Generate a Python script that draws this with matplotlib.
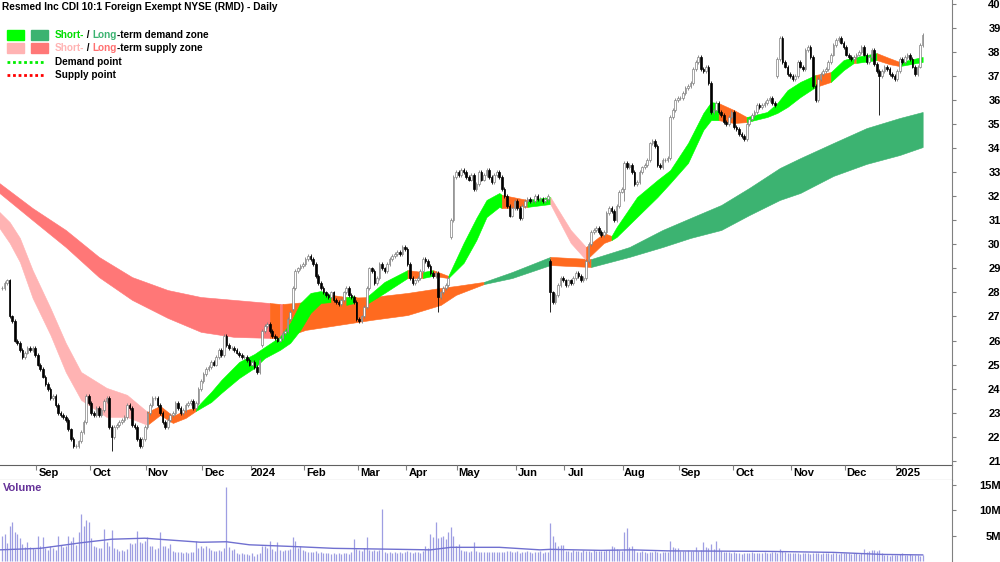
import numpy as np
import matplotlib
matplotlib.use("Agg")
import matplotlib.pyplot as plt
from matplotlib.patches import Rectangle
from matplotlib.lines import Line2D

plt.rcParams['font.family'] = ['Liberation Sans', 'DejaVu Sans']

# trading days in each month shown (Aug 2023 partial ... Jan 2025 partial)
month_days = [14, 21, 22, 22, 19, 21, 21, 19, 20, 23, 19, 23, 22, 21, 23, 21, 20, 11]
month_labels = ['', 'Sep', 'Oct', 'Nov', 'Dec', '2024', 'Feb', 'Mar', 'Apr', 'May',
                'Jun', 'Jul', 'Aug', 'Sep', 'Oct', 'Nov', 'Dec', '2025']

# daily closes, one row per month
closes = [
    28.2, 28.4, 28.5, 27.0, 26.8, 26.0, 25.9, 25.6, 25.3, 25.5, 25.7, 25.6, 25.7, 25.4,
    25.0, 24.8, 24.5, 24.2, 24.0, 23.6, 23.7, 23.3, 23.0, 22.9, 22.8, 22.7, 22.3, 21.9,
    21.6, 21.6, 21.8, 22.2, 22.6, 23.7, 23.4,
    23.0, 22.9, 23.2, 22.9, 23.1, 23.5, 23.6, 22.4, 22.0, 22.4, 22.5, 22.6, 22.7, 22.8,
    23.3, 23.2, 22.5, 22.4, 21.9, 21.6, 21.9, 22.4,
    23.0, 23.3, 23.6, 23.6, 23.3, 23.0, 22.6, 22.4, 22.7, 22.9, 23.0, 23.4, 23.2, 23.0,
    23.1, 23.3, 23.4, 23.5, 23.2, 23.4, 24.0, 24.3,
    24.6, 24.8, 24.9, 25.1, 25.0, 25.3, 25.6, 25.4, 26.2, 25.8, 25.7, 25.7, 25.6, 25.5,
    25.4, 25.3, 25.3, 25.2, 25.0,
    25.1, 24.9, 24.7, 25.2, 26.4, 26.6, 26.7, 26.4, 26.2, 26.1, 26.0, 26.1, 26.3, 26.4,
    26.9, 27.2, 28.2, 28.9, 29.0, 29.1, 29.2,
    29.4, 29.5, 29.4, 29.2, 28.7, 28.4, 28.2, 28.0, 27.9, 27.8, 28.0, 27.7, 27.6, 27.5,
    27.7, 28.0, 28.2, 27.9, 27.8, 27.6, 26.9,
    26.8, 27.0, 27.4, 28.2, 29.0, 28.9, 28.4, 28.6, 29.2, 29.0, 28.9, 29.2, 29.4, 29.5,
    29.6, 29.7, 29.6, 29.9, 29.8,
    29.2, 28.6, 28.4, 28.5, 28.6, 28.9, 29.4, 29.3, 29.1, 28.8, 28.7, 28.8, 27.8, 28.0,
    28.2, 28.3, 28.6, 31.0, 32.8, 33.0,
    32.9, 33.1, 33.0, 32.8, 32.7, 32.9, 32.3, 32.5, 33.0, 32.7, 32.9, 33.1, 32.8, 32.6,
    32.9, 33.0, 32.8, 32.3, 32.0, 31.6, 31.2, 31.5, 31.8,
    31.5, 31.1, 31.6, 31.8, 31.9, 31.8, 31.8, 32.0, 31.9, 31.9, 31.8, 31.9, 32.0, 28.0,
    27.6, 27.9, 28.3, 28.6, 28.5,
    28.3, 28.5, 28.4, 28.6, 28.8, 28.7, 28.5, 28.6, 29.3, 30.0, 30.5, 30.6, 30.7, 30.5,
    30.4, 30.5, 31.3, 31.5, 31.4, 31.0, 31.6, 32.2, 32.3,
    33.4, 33.2, 33.3, 33.0, 32.5, 32.6, 33.0, 33.2, 33.3, 33.5, 34.2, 34.3, 34.1, 33.3,
    33.2, 33.5, 33.5, 33.6, 35.3, 35.6, 36.0, 36.1,
    36.1, 36.3, 36.5, 36.6, 36.7, 37.3, 37.6, 37.8, 37.3, 37.2, 37.4, 36.7, 35.5, 35.6,
    35.9, 35.5, 35.4, 35.1, 35.0, 35.3, 35.5,
    34.9, 34.8, 34.6, 34.5, 34.4, 35.0, 35.2, 35.4, 35.5, 35.8, 35.7, 35.8, 35.9, 36.0,
    36.1, 35.9, 35.8, 37.7, 38.6, 37.6, 37.4, 37.1, 37.0,
    36.9, 37.0, 37.6, 37.4, 37.3, 38.1, 38.2, 37.8, 36.6, 36.0, 36.9, 37.1, 37.2, 37.3,
    37.6, 37.9, 38.3, 38.5, 38.6, 38.4, 38.2,
    37.9, 37.8, 37.7, 37.8, 37.9, 38.0, 38.2, 37.9, 37.6, 37.8, 38.1, 37.5, 37.2, 37.0,
    37.2, 37.4, 37.3, 37.1, 37.0, 36.9,
    37.2, 37.7, 37.6, 37.8, 37.9, 37.7, 37.4, 37.1, 37.4, 38.3, 38.7,
]

# opens on gap days (other days open at the previous close)
gap_opens = {102: 25.8, 114: 27.3, 176: 30.3, 215: 29.3, 304: 37.0}
# long lower shadows
long_lows = {43: 21.4, 171: 27.2, 215: 27.2, 244: 31.8, 344: 35.4}

# volume in millions
volume = [
    5.0, 5.3, 3.5, 7.0, 7.7, 5.7, 5.3, 4.5, 3.3, 2.8, 3.7, 2.7, 2.5, 2.4,
    5.0, 3.0, 4.7, 2.5, 2.2, 3.0, 2.6, 2.2, 5.0, 3.2, 2.8, 3.0, 5.0, 4.0, 4.7, 3.2,
    5.7, 9.3, 7.0, 8.0, 7.7,
    4.5, 3.0, 2.8, 2.5, 2.6, 6.3, 3.7, 3.0, 6.1, 2.5, 2.3, 2.0, 2.2, 2.0, 2.3, 3.5,
    3.3, 3.5, 6.0, 3.7, 3.5, 4.0,
    4.7, 3.0, 3.0, 2.3, 2.5, 5.7, 3.0, 3.0, 2.5, 3.3, 2.0, 1.8, 1.7, 1.8, 1.6, 1.7,
    1.6, 1.8, 1.7, 4.0, 2.5, 3.0,
    2.5, 3.0, 2.5, 2.2, 2.0, 2.0, 2.2, 2.0, 2.5, 14.7, 2.8, 2.2, 2.4, 1.5, 1.4, 1.5,
    1.3, 1.4, 1.2,
    1.6, 1.0, 1.3, 1.5, 3.0, 2.9, 2.5, 4.0, 2.4, 2.0, 3.7, 2.2, 2.0, 2.2, 2.1, 2.3,
    4.7, 4.0, 2.5, 3.0, 2.2,
    2.0, 1.8, 1.8, 1.7, 1.9, 1.6, 1.8, 1.5, 1.6, 1.5, 1.4, 1.5, 1.3, 1.5, 1.4, 1.6,
    1.5, 1.4, 1.8, 4.3, 2.3,
    2.2, 2.0, 2.5, 4.8, 2.1, 2.0, 2.2, 2.0, 2.2, 10.2, 1.8, 1.6, 1.8, 1.6, 1.7, 1.5,
    1.8, 1.6, 1.7,
    2.0, 1.8, 1.6, 1.8, 1.7, 1.6, 1.9, 3.0, 2.5, 5.3, 4.7, 7.7, 4.5, 4.7, 5.0, 4.3,
    5.7, 6.7, 5.0, 3.0,
    3.3, 2.2, 2.0, 2.0, 1.8, 1.9, 3.7, 2.0, 1.8, 1.8, 1.7, 1.8, 1.7, 1.8, 1.7, 1.8,
    1.8, 1.8, 1.7, 2.0, 1.9, 1.8, 1.7,
    1.9, 1.6, 1.8, 1.7, 2.0, 1.8, 1.6, 1.7, 1.8, 1.9, 1.6, 1.7, 1.8, 7.5, 5.0, 3.7,
    3.0, 3.2, 3.2,
    2.0, 1.9, 1.8, 2.1, 1.9, 2.0, 1.8, 2.2, 1.9, 2.0, 1.8, 2.1, 1.9, 2.0, 2.0, 2.0,
    2.2, 2.2, 3.0, 2.7, 2.4, 2.1, 2.0,
    5.7, 6.5, 2.7, 3.0, 2.3, 1.8, 1.7, 1.9, 1.8, 1.6, 1.8, 1.7, 1.9, 1.8, 1.6, 1.7,
    1.8, 1.8, 3.9, 2.7, 2.5, 2.5,
    2.0, 1.9, 2.0, 2.1, 2.0, 2.0, 2.7, 2.0, 2.1, 3.7, 2.7, 2.5, 3.3, 2.3, 4.0, 2.5,
    1.9, 1.8, 1.7, 1.8, 1.6,
    1.7, 1.5, 1.6, 1.4, 1.5, 1.6, 1.5, 1.7, 1.6, 1.5, 1.6, 1.5, 1.7, 1.6, 1.5, 1.8,
    1.7, 1.6, 2.4, 2.0, 1.7, 1.6, 1.5,
    1.6, 1.5, 1.6, 1.4, 1.5, 1.5, 1.6, 1.4, 1.5, 1.6, 1.5, 1.4, 1.5, 1.6, 1.5, 1.4,
    1.5, 1.6, 1.4, 1.5, 1.5,
    1.6, 1.5, 1.4, 1.5, 1.6, 1.4, 1.6, 2.3, 1.7, 2.0, 2.1, 2.2, 1.9, 2.1, 1.6, 1.2,
    1.1, 1.0, 1.1, 1.2,
    1.1, 1.3, 1.6, 1.2, 1.1, 1.3, 1.2, 1.1, 1.2, 1.0, 1.1,
]

# volume average line (day index, millions)
vol_ma_x = [-1, 15, 31, 43, 56, 78, 88, 97, 117, 130, 156, 168, 176, 195, 211, 215,
            235, 247, 261, 300, 326, 345, 361]
vol_ma_y = [2.2, 2.5, 3.6, 4.3, 4.5, 3.7, 3.8, 3.2, 2.8, 2.5, 2.3, 2.2, 2.7, 2.7,
            2.2, 2.3, 2.1, 2.2, 2.0, 1.9, 1.7, 1.3, 1.2]

# short-term zone band (day index, upper, lower)
st_x = [-1, 3, 7, 12, 19, 25, 31, 41, 49, 57, 62, 67, 72, 76, 82, 86, 93, 99, 103,
        109, 113, 117, 121, 125, 129, 135, 138, 141, 143, 150, 159, 165, 169, 175,
        181, 186, 190, 195, 196, 206, 215, 223, 229, 236, 239, 241, 249, 257, 262,
        269, 275, 278, 281, 287, 292, 300, 304, 308, 313, 319, 325, 330, 334, 335,
        343, 348, 352, 361]
st_hi = [31.35, 30.93, 30.27, 28.93, 27.35, 25.90, 24.69, 24.03, 23.74, 23.03,
         23.28, 22.86, 23.11, 23.19, 23.86, 24.36, 25.11, 25.44, 25.73, 26.15,
         26.73, 27.56, 27.98, 28.06, 27.90, 27.81, 27.85, 27.69, 27.81, 28.44,
         28.93, 28.85, 28.93, 28.69, 30.06, 31.10, 31.85, 32.14, 32.06, 31.85,
         31.97, 30.60, 29.89, 30.47, 30.35, 30.72, 31.97, 32.68, 33.09, 34.22,
         35.47, 35.92, 35.88, 35.59, 35.30, 35.51, 35.88, 36.42, 36.76, 37.05,
         37.17, 37.67, 37.80, 37.80, 37.96, 37.75, 37.59, 37.80]
st_lo = [30.68, 30.06, 29.27, 27.77, 26.23, 24.69, 23.53, 22.82, 22.82, 22.49,
         22.90, 22.57, 22.78, 23.07, 23.44, 23.82, 24.44, 24.86, 25.27, 25.61,
         25.90, 26.44, 27.15, 27.56, 27.60, 27.48, 27.56, 27.40, 27.52, 27.98,
         28.60, 28.60, 28.69, 28.60, 29.23, 30.18, 31.14, 31.56, 31.51, 31.56,
         31.68, 30.06, 29.35, 30.06, 30.18, 30.31, 31.14, 31.97, 32.55, 33.39,
         34.76, 35.17, 35.17, 35.05, 35.09, 35.30, 35.47, 35.72, 36.13, 36.55,
         36.76, 37.25, 37.55, 37.55, 37.67, 37.50, 37.42, 37.59]
st_zones = [(-1, 'SS'), (57, 'N'), (76, 'SD'), (129, 'N'), (135, 'SD'), (138, 'N'),
            (143, 'SD'), (159, 'N'), (165, 'SD'), (169, 'N'), (175, 'SD'), (196, 'N'),
            (206, 'SD'), (215, 'SS'), (229, 'N'), (239, 'SD'), (281, 'N'), (292, 'SD'),
            (319, 'N'), (325, 'SD'), (334, 'N'), (335, 'SD'), (343, 'N'), (352, 'SD')]

# long-term zone band
lt_x = [-1, 12, 25, 38, 51, 65, 78, 91, 105, 109, 110, 119, 132, 145, 159, 172, 178,
        189, 200, 215, 231, 246, 259, 270, 282, 293, 305, 313, 326, 339, 352, 361]
lt_hi = [32.55, 31.51, 30.60, 29.48, 28.64, 28.10, 27.81, 27.69, 27.56, 27.52, 27.52,
         27.60, 27.77, 27.81, 27.98, 28.19, 28.27, 28.44, 28.85, 29.48, 29.39, 29.89,
         30.60, 31.10, 31.64, 32.35, 33.18, 33.59, 34.22, 34.84, 35.26, 35.51]
lt_lo = [32.14, 31.01, 29.89, 28.64, 27.69, 26.94, 26.36, 26.15, 26.11, 26.11, 26.11,
         26.44, 26.65, 26.86, 27.06, 27.48, 27.90, 28.35, 28.60, 29.14, 29.06, 29.48,
         29.89, 30.27, 30.60, 31.22, 31.85, 32.14, 32.85, 33.35, 33.72, 34.05]
lt_zones = [(-1, 'LS'), (105, 'N'), (109, 'LS'), (110, 'N'), (189, 'LD'), (215, 'N'),
            (231, 'LD')]

zone_colors = {
    'SD': '#00ff00',   # short-term demand
    'LD': '#3cb371',   # long-term demand
    'SS': '#ffb3b3',   # short-term supply
    'LS': '#ff7777',   # long-term supply
    'N': '#ff6a1f',    # contested
}

W, H = 1000, 562
X0, X1 = -0.78, 372.5


def zone_at(breaks, x):
    z = breaks[0][1]
    for start, name in breaks:
        if x >= start:
            z = name
    return z


def draw_band(ax, xs, hi, lo, breaks, zorder):
    zones = [zone_at(breaks, x) for x in xs[:-1]]
    start = 0
    for k in range(1, len(zones) + 1):
        if k == len(zones) or zones[k] != zones[start]:
            c = zone_colors[zones[start]]
            ax.fill_between(xs[start:k + 1], lo[start:k + 1], hi[start:k + 1],
                            facecolor=c, edgecolor=c, lw=0.4, zorder=zorder)
            start = k


def fig_xy(x, y):
    return x / W, 1 - y / H


fig = plt.figure(figsize=(W / 100, H / 100), dpi=100)

# ---- price panel ----
ax = fig.add_axes([0, 97 / H, 952 / W, 465 / H])
ax.set_xlim(X0, X1)
ax.set_ylim(20.82, 40.17)

draw_band(ax, lt_x, lt_hi, lt_lo, lt_zones, 1)
draw_band(ax, st_x, st_hi, st_lo, st_zones, 2)

n = len(closes)
idx = np.arange(n)
c_arr = np.array(closes)
o_arr = np.r_[c_arr[0], c_arr[:-1]]
for k, v in gap_opens.items():
    o_arr[k] = v
top = np.maximum(o_arr, c_arr)
bot = np.minimum(o_arr, c_arr)
hi_arr = top + 0.08
lo_arr = bot - 0.08
for k, v in long_lows.items():
    lo_arr[k] = v
up = c_arr >= o_arr

ax.vlines(idx[up], lo_arr[up], hi_arr[up], color='#808080', lw=0.6, zorder=3)
ax.vlines(idx[~up], lo_arr[~up], hi_arr[~up], color='black', lw=0.6, zorder=3)
ax.bar(idx[up], (top - bot)[up], bottom=bot[up], width=0.65, facecolor='white',
       edgecolor='#808080', lw=0.5, zorder=4)
ax.bar(idx[~up], (top - bot)[~up], bottom=bot[~up], width=0.65, facecolor='black',
       edgecolor='black', lw=0.5, zorder=4)

for s in ['top', 'left']:
    ax.spines[s].set_visible(False)
ax.spines['right'].set_color('#808080')
ax.spines['bottom'].set_color('#606060')
ax.set_xticks([])
ax.yaxis.tick_right()
ax.set_yticks(range(21, 41))
ax.tick_params(axis='y', length=3, color='#808080', pad=32, labelsize=8)
for lab in ax.get_yticklabels():
    lab.set_ha('right')
    lab.set_fontweight('bold')

# ---- date strip ----
axd = fig.add_axes([0, 82 / H, 952 / W, 15 / H])
axd.set_xlim(X0, X1)
axd.set_ylim(0, 1)
axd.set_xticks([])
axd.set_yticks([])
for s in ['top', 'left']:
    axd.spines[s].set_visible(False)
axd.spines['right'].set_color('#808080')
axd.spines['bottom'].set_color('#606060')
axd.patch.set_alpha(0)
bounds = np.cumsum(month_days)[:-1]
axd.vlines(bounds - 0.5, 0.65, 1.0, color='#808080', lw=0.8)
for b, lab in zip(bounds, month_labels[1:]):
    axd.text(b + 4.2, 0.45, lab, ha='center', va='center', fontsize=8,
             fontweight='bold')

# ---- volume panel ----
axv = fig.add_axes([0, 0, 952 / W, 82 / H])
axv.set_xlim(X0, X1)
axv.set_ylim(-0.2, 16.0)
axv.vlines(idx, 0, volume, color='#9e9ee2', lw=0.9)
axv.plot(vol_ma_x, vol_ma_y, color='#7070d0', lw=1.0)
for s in ['top', 'left', 'bottom']:
    axv.spines[s].set_visible(False)
axv.spines['right'].set_color('#808080')
axv.set_xticks([])
axv.yaxis.tick_right()
axv.set_yticks([5, 10, 15])
axv.set_yticklabels(['5M', '10M', '15M'])
axv.tick_params(axis='y', length=3, color='#808080', pad=32, labelsize=8)
for lab in axv.get_yticklabels():
    lab.set_ha('right')
    lab.set_fontweight('bold')
fig.text(*fig_xy(3, 488), 'Volume', color='#663399', fontsize=8,
         fontweight='bold', va='center')

# ---- title and legend ----
fig.text(*fig_xy(2, 7), 'Resmed Inc CDI 10:1 Foreign Exempt NYSE (RMD) - Daily',
         fontsize=7.3, fontweight='bold', va='center')

for x, y, c in [(7, 30, zone_colors['SD']), (31, 30, zone_colors['LD']),
                (7, 43, zone_colors['SS']), (31, 43, zone_colors['LS'])]:
    fig.patches.append(Rectangle(fig_xy(x, y + 10), 17 / W, 10 / H,
                                 transform=fig.transFigure, color=c))
fig.lines.append(Line2D([7 / W, 44 / W], [1 - 62 / H] * 2, transform=fig.transFigure,
                        color='#00ee00', lw=2, ls=(0, (1, 1))))
fig.lines.append(Line2D([7 / W, 44 / W], [1 - 74.5 / H] * 2, transform=fig.transFigure,
                        color='#ff0000', lw=2, ls=(0, (1, 1))))

renderer = fig.canvas.get_renderer()


def rich_text(x, y, pieces):
    for txt, col in pieces:
        t = fig.text(*fig_xy(x, y), txt, color=col, fontsize=7.2, fontweight='bold',
                     va='center')
        x += t.get_window_extent(renderer).width


rich_text(55, 35, [('Short-', '#00dd00'), (' / ', 'black'), ('Long', '#3cb371'),
                   ('-term demand zone', 'black')])
rich_text(55, 48, [('Short-', '#ffb3b3'), (' / ', 'black'), ('Long', '#ff7070'),
                   ('-term supply zone', 'black')])
rich_text(55, 62, [('Demand point', 'black')])
rich_text(55, 75, [('Supply point', 'black')])

fig.savefig('out.png', dpi=100)
